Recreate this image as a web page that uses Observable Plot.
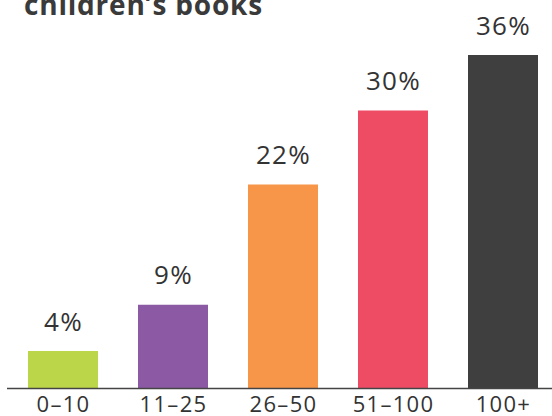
<!DOCTYPE html>
<html>
<head>
<meta charset="utf-8">
<script src="https://cdn.jsdelivr.net/npm/d3@7"></script>
<script src="https://cdn.jsdelivr.net/npm/@observablehq/plot@0.6"></script>
<style>
  html, body { margin: 0; padding: 0; background: #fff; }
  #wrap { position: relative; width: 552px; height: 416px; overflow: hidden; font-family: "Open Sans", "Noto Sans", sans-serif; }
  #title { position: absolute; left: 24px; top: -16px; font-size: 28px; line-height: 40px; font-weight: 700; color: #3a3a3a; margin: 0; white-space: nowrap; letter-spacing: 0.8px; }
  #chart { position: absolute; left: 0; top: 0; }
  #chart svg text { letter-spacing: 1.3px; }
</style>
</head>
<body>
<div id="wrap">
  <div id="chart"></div>
  <h2 id="title">children’s books</h2>
</div>
<script>
const categories = ["0–10", "11–25", "26–50", "51–100", "100+"];
const values = [4, 9, 22, 30, 36];
const colors = ["#bcd64a", "#8c5aa5", "#f79548", "#ee4b65", "#3f3f3f"];

const data = categories.map((c, i) => ({category: c, value: values[i], label: values[i] + "%"}));

const chart = Plot.plot({
  width: 552,
  height: 416,
  marginTop: 55,
  marginBottom: 28,
  marginLeft: 7,
  marginRight: 0,
  style: {fontFamily: "'Open Sans', 'Noto Sans', sans-serif", background: "transparent", overflow: "visible"},
  x: {domain: categories, paddingInner: 0.3665, paddingOuter: 0.1493, align: 0.606, label: null},
  y: {domain: [0, 36], axis: null},
  color: {domain: categories, range: colors},
  marks: [
    Plot.barY(data, {x: "category", y: "value", fill: "category"}),
    Plot.ruleY([0], {stroke: "#444", strokeWidth: 1.3}),
    Plot.text(data, {x: "category", y: "value", text: "label", dy: -21, lineAnchor: "bottom", fontSize: 26, fill: "#333"}),
    Plot.axisX({tickSize: 0, tickPadding: 8, fontSize: 22, color: "#333", label: null})
  ]
});
document.getElementById("chart").appendChild(chart);
</script>
</body>
</html>
